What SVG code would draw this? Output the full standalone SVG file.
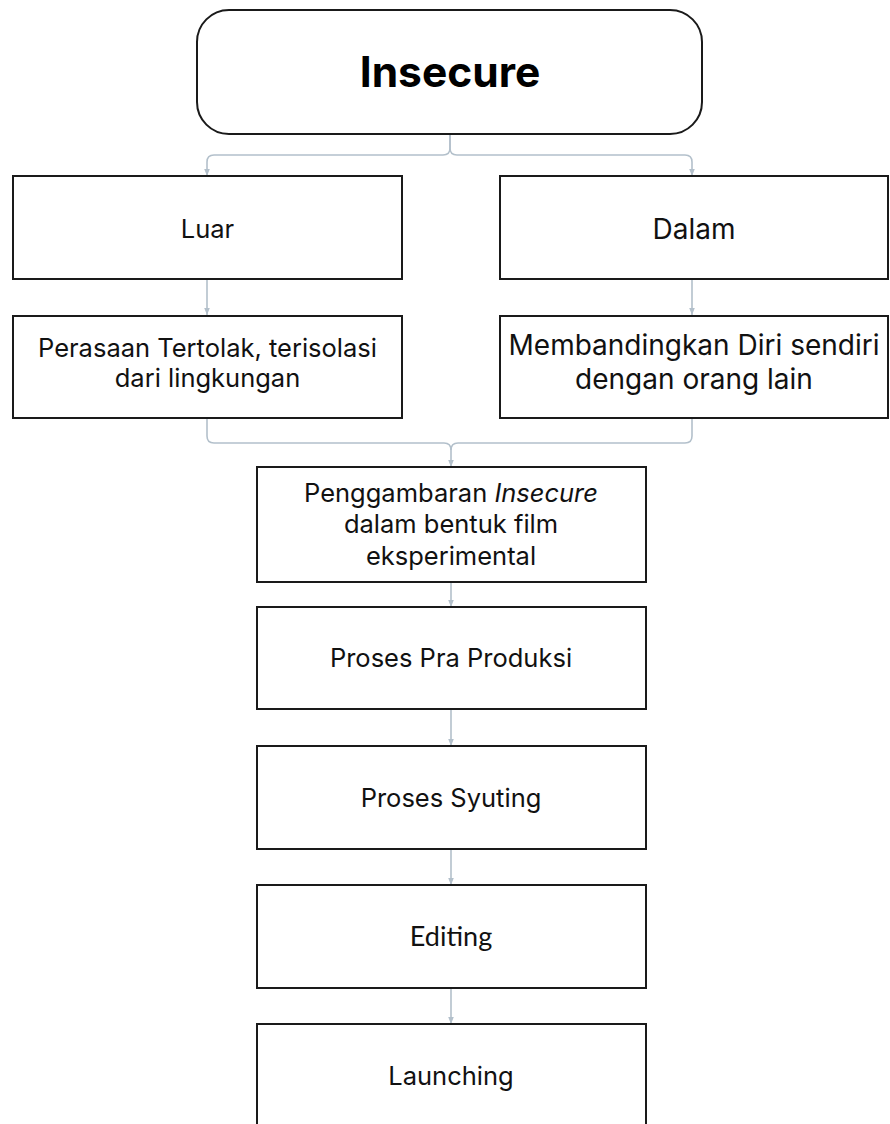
<svg xmlns="http://www.w3.org/2000/svg" width="890" height="1124" viewBox="0 0 890 1124">
<style>
.box{fill:#fff;stroke:#1a1a1a;stroke-width:2}
.t{font-family:Inter,"Liberation Sans",sans-serif;font-size:25.5px;fill:#111;text-anchor:middle}
.r{font-size:28px}
.big{font-family:Inter,"Liberation Sans",sans-serif;font-size:42.5px;font-weight:700;fill:#000;text-anchor:middle}
.c{fill:none;stroke:#b3c0cb;stroke-width:1.6}
</style>
<defs>
<marker id="ah" viewBox="0 0 10 10" refX="10" refY="5" markerWidth="7" markerHeight="7" orient="auto" markerUnits="userSpaceOnUse">
<path d="M0,1 L10,5 L0,9 z" fill="#b3c0cb"/>
</marker>
</defs>
<g id="connectors">
<path class="c" d="M450,134 V148 Q450,155 443,155 H214 Q207,155 207,162 V176" marker-end="url(#ah)"/>
<path class="c" d="M450,134 V148 Q450,155 457,155 H685 Q692,155 692,162 V176" marker-end="url(#ah)"/>
<path class="c" d="M207,279 V315" marker-end="url(#ah)"/>
<path class="c" d="M692,279 V315" marker-end="url(#ah)"/>
<path class="c" d="M207,418 V436 Q207,443 214,443 H444 Q451,443 451,450 V467" marker-end="url(#ah)"/>
<path class="c" d="M692,418 V436 Q692,443 685,443 H458 Q451,443 451,450"/>
<path class="c" d="M451,582 V607" marker-end="url(#ah)"/>
<path class="c" d="M451,709 V746" marker-end="url(#ah)"/>
<path class="c" d="M451,849 V885" marker-end="url(#ah)"/>
<path class="c" d="M451,988 V1024" marker-end="url(#ah)"/>
</g>
<g id="insecure">
<rect class="box" x="197" y="10" width="505" height="124" rx="32"/>
<text class="big" x="450" y="87">Insecure</text>
</g>
<g id="luar">
<rect class="box" x="13" y="176" width="389" height="103"/>
<text class="t" x="207.5" y="238">Luar</text>
</g>
<g id="dalam">
<rect class="box" x="500" y="176" width="388" height="103"/>
<text class="t r" x="694" y="239">Dalam</text>
</g>
<g id="perasaan">
<rect class="box" x="13" y="316" width="389" height="102"/>
<text class="t" x="207.5" y="357">Perasaan Tertolak, terisolasi</text>
<text class="t" x="207.5" y="387">dari lingkungan</text>
</g>
<g id="membandingkan">
<rect class="box" x="500" y="316" width="388" height="102"/>
<text class="t r" x="694" y="355">Membandingkan Diri sendiri</text>
<text class="t r" x="694" y="389">dengan orang lain</text>
</g>
<g id="penggambaran">
<rect class="box" x="257" y="467" width="389" height="115"/>
<text class="t" x="451" y="502">Penggambaran <tspan font-style="italic">Insecure</tspan></text>
<text class="t" x="451" y="533">dalam bentuk film</text>
<text class="t" x="451" y="565">eksperimental</text>
</g>
<g id="prapro">
<rect class="box" x="257" y="607" width="389" height="102"/>
<text class="t" x="451" y="667">Proses Pra Produksi</text>
</g>
<g id="syuting">
<rect class="box" x="257" y="746" width="389" height="103"/>
<text class="t" x="451" y="807">Proses Syuting</text>
</g>
<g id="editing">
<rect class="box" x="257" y="885" width="389" height="103"/>
<text class="t" x="451" y="946" style="font-family:Lato,'Liberation Sans',sans-serif;font-size:27px">Editing</text>
</g>
<g id="launching">
<rect class="box" x="257" y="1024" width="389" height="110"/>
<text class="t" x="451" y="1085">Launching</text>
</g>
</svg>
